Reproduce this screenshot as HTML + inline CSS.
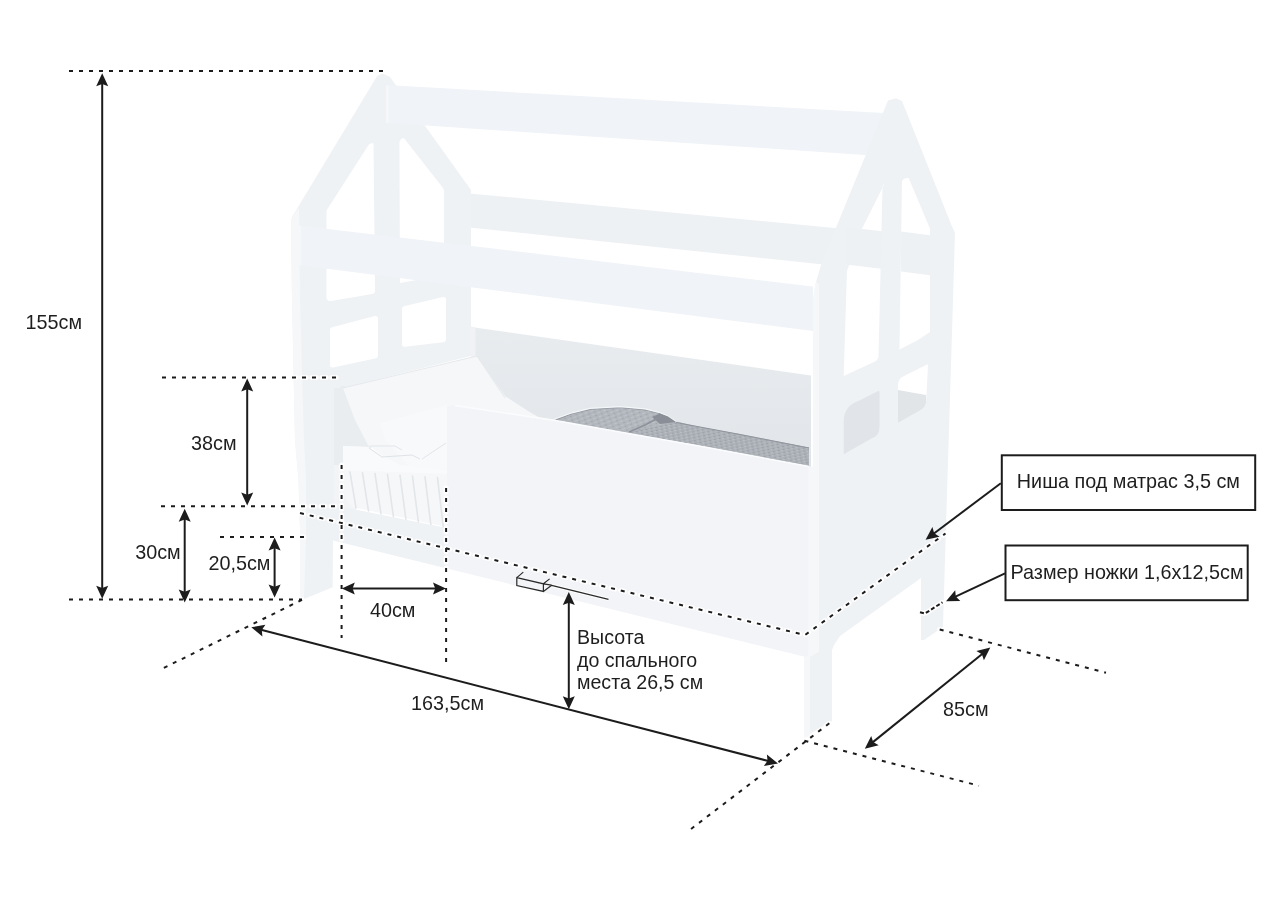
<!DOCTYPE html>
<html><head><meta charset="utf-8"><style>
html,body{margin:0;padding:0;background:#fff;}
svg{display:block;will-change:transform;}
text{font-family:"Liberation Sans",sans-serif;fill:#1e1e1e;}
</style></head><body>
<svg width="1280" height="900" viewBox="0 0 1280 900">
<rect width="1280" height="900" fill="#fff"/>
<polygon points="469,193.4 840,228.5 823,264.5 469,227.5" fill="#eef1f4" />
<linearGradient id="bp" x1="0" y1="0" x2="0" y2="1"><stop offset="0" stop-color="#e9ecef"/><stop offset="1" stop-color="#e1e5e9"/></linearGradient>
<polygon points="471,327 811,375.5 811,470 471,430" fill="url(#bp)" />
<polygon points="471,326.5 475.5,327.2 475.5,400 471,400" fill="#f0f2f5" />
<polygon points="291,222 292,217 377.3,75.8 382.7,73.4 389.8,76.7 471,190 471,356 343,388 340,400 340,537 333,537 332.7,587.3 303,599.5 300.3,598 300.3,540 298.5,480 295,440 292,300" fill="#eff2f5" />
<polygon points="291,222 292,217 299,207 300,300 304,440 306,480 306,537 304,598 300.3,598 300.3,540 298.5,480 295,440 292,300" fill="#f5f7f9" />
<path d="M368.5,145 Q370.6,142.5 373.5,143.5 L375,291 Q375,293.5 372,294 L331,301 Q326.5,301.5 326.5,297 L326.5,212 Q326.5,209 328.4,207.5 Z" fill="#fff"/>
<path d="M401,139 Q403.4,137.5 405,139.5 L442.5,187.2 Q444,189.5 444,192 L444,275 L400,283 L399.5,142 Z" fill="#fff"/>
<path d="M333,327 L375,316 Q378,315.5 378,319 L378,355 Q378,358 375,358.5 L333,367.5 Q330,368 330,365 L330,330 Q330,327.5 333,327 Z" fill="#fff"/>
<path d="M405,306 L443,297 Q446,296.5 446,300 L446,339 Q446,342 443,342.3 L405,346.7 Q402,347 402,344 L402,309 Q402,306.5 405,306 Z" fill="#fff"/>
<polygon points="334,388 343,388 343,465 334,465" fill="#eaedf0" />
<polygon points="334,465 356,465 356,537 334,537" fill="#f2f4f6" />
<polygon points="386.2,85.1 893,113.5 872,155.5 386.2,122.8" fill="#f0f3f7" />
<polygon points="386.2,85.1 388.5,85.3 388.5,123 386.2,122.9" fill="#f5f7f9" />
<polygon points="298,225.5 813,286.5 813,331 298,265" fill="#f0f3f7" />
<polygon points="298,225.5 301,225.8 301,265.3 298,265" fill="#f5f7f9" />
<pattern id="tx" width="6" height="4" patternUnits="userSpaceOnUse" patternTransform="rotate(-20)"><rect width="6" height="4" fill="#b2b6bd"/><rect width="3" height="1" fill="#c0c4ca"/><rect x="3" y="2" width="2" height="1" fill="#a2a7af"/></pattern>
<pattern id="tx2" width="5" height="3" patternUnits="userSpaceOnUse" patternTransform="rotate(-12)"><rect width="5" height="3" fill="#adb1b8"/><rect width="2" height="1" fill="#bbbfc5"/><rect x="2" y="2" width="2" height="1" fill="#9ca1a9"/></pattern>
<polygon points="600,418 674,421 700,426.9 740,434 809,447.5 809,466.5 700,445.5 554,420.5" fill="url(#tx2)" />
<polygon points="554,419.5 572,413 590,408.5 620,406.8 645,409 659,412.5 668,416.5 676,422 660,425 640,430 627,432.5 554,420.5" fill="url(#tx)" />
<path d="M556,419.8 L572,413.8 L590,409.3 L620,407.6 L645,409.8 L659,413.3 L668,417.3 L675,422" fill="none" stroke="#959aa3" stroke-width="1"/>
<path d="M554,419.3 L572,412.8 L590,408.3 L620,406.6 L645,408.8 L659,412.3 L668,416.3 L676.5,422" fill="none" stroke="#f4f6f8" stroke-width="1.2"/>
<path d="M676,422.5 L740,434.5 L809,448" fill="none" stroke="#8f949c" stroke-width="1"/>
<polygon points="652,417 660,413.5 668,416.5 676,422 660,424" fill="#8a8f97" />
<path d="M629,432 L645,425 L662,416" fill="none" stroke="#8d929a" stroke-width="1.6"/>
<polygon points="340,386 345,386 372,448 343,452 340,452" fill="#eaedf0" />
<polygon points="343,388 420,370 477,356 490,375 497,385 505,396 528,411 540,418 470,410 447,405 447,470 400,468 368,445 355,420" fill="#f5f7f9" />
<polygon points="380,423 447,405 447,470 410,468 385,440" fill="#f8f9fb" />
<line x1="343" y1="388" x2="477" y2="356" stroke="#e6e9ec" stroke-width="1" />
<line x1="477" y1="356" x2="505" y2="398" stroke="#e6e9ec" stroke-width="1" />
<path d="M343,446 L368,447 L400,465 L447,470 L447,527 L352,507 Q345,500 343,490 Z" fill="#f6f7f9"/>
<polygon points="343,446 368,447 400,465 447,470 447,474 343,470" fill="#f9fafb" />
<line x1="350.0" y1="472.0" x2="356.0" y2="508.0" stroke="#e2e6e9" stroke-width="1.6" stroke-linecap="round"/>
<line x1="362.5" y1="472.8" x2="368.5" y2="511.0" stroke="#e2e6e9" stroke-width="1.6" stroke-linecap="round"/>
<line x1="375.0" y1="473.6" x2="381.0" y2="514.0" stroke="#e2e6e9" stroke-width="1.6" stroke-linecap="round"/>
<line x1="387.5" y1="474.4" x2="393.5" y2="517.0" stroke="#e2e6e9" stroke-width="1.6" stroke-linecap="round"/>
<line x1="400.0" y1="475.2" x2="406.0" y2="520.0" stroke="#e2e6e9" stroke-width="1.6" stroke-linecap="round"/>
<line x1="412.5" y1="476.0" x2="418.5" y2="523.0" stroke="#e2e6e9" stroke-width="1.6" stroke-linecap="round"/>
<line x1="425.0" y1="476.8" x2="431.0" y2="526.0" stroke="#e2e6e9" stroke-width="1.6" stroke-linecap="round"/>
<line x1="437.5" y1="477.6" x2="443.5" y2="529.0" stroke="#e2e6e9" stroke-width="1.6" stroke-linecap="round"/>
<polyline points="369,448 382,457 412,455 420,459" fill="none" stroke="#dfe3e7" stroke-width="1"/>
<polyline points="370,446 395,446 402,450" fill="none" stroke="#e3e6ea" stroke-width="1"/>
<polyline points="422,459 446,443" fill="none" stroke="#e3e6ea" stroke-width="1"/>
<polygon points="333,505 447,528 447,568.6 333,540.5" fill="#eff2f5" />
<polygon points="447,405.5 455,405.2 554,420 700,446 809,466 809,657.8 447,568.6" fill="#f2f4f8" />
<polyline points="455,405.4 554,420.3 700,446.3 809,466.4" fill="none" stroke="#fbfcfd" stroke-width="1.5"/>
<polygon points="813,304 814,292 816,282 822,262 888,100.5 896,98.3 902,101 951,224 955,233 951.8,340 945,560 943,627 924,640 921,640 921,578 840,636 834,645 832,650 832,721 804,737.5 804,657 813,655" fill="#eff2f5" />
<polygon points="813,304 814,292 816,282 819,284 819,652 813,655" fill="#f5f7f9" />
<polygon points="804,657 810,655 810,737 804,737.5" fill="#f5f7f9" />
<polygon points="808.5,466.5 813.5,466.5 813.5,655 808.5,657.8" fill="#f5f7f9" />
<path d="M884.7,183.3 L882.5,186 L878.5,356 Q878.5,360 874,362 L843.7,376 L847,271 L862,228.7 Z" fill="#fff"/>
<path d="M902,181 Q904,177.5 908.7,178 L930,228.7 L930,332 L918,340 L899.5,349.4 Z" fill="#fff"/>
<polygon points="846,227 882,231.3 881,268.7 846,264.5" fill="#eef1f4" />
<polygon points="901,231.5 930,235.3 930,275.3 901,271.5" fill="#eef1f4" />
<path d="M843.7,454.2 L843.7,421 Q843.7,406 858.9,400.7 L877.7,391.3 L879.5,391 L879.5,426 Q879.5,436 871.9,438.3 Z" fill="#e1e4e8"/>
<path d="M897.9,423.1 L897.9,384.8 Q898.5,378 904,376 L926,365 L928,364.6 L926.1,402 Q926,407 920,410.5 Z" fill="#ffffff"/>
<path d="M897.9,423.1 L897.9,389.9 L926,394.9 L926.1,402 Q926,407 920,410.5 Z" fill="#e2e5e8"/>
<line x1="69" y1="71" x2="383" y2="71" stroke="#fff" stroke-width="5.0" stroke-linecap="round" stroke-dasharray="4 6" stroke-dashoffset="0" opacity="0.9"/>
<line x1="69" y1="599.6" x2="302" y2="599.6" stroke="#fff" stroke-width="5.0" stroke-linecap="round" stroke-dasharray="4 6" stroke-dashoffset="0" opacity="0.9"/>
<line x1="162" y1="377.5" x2="336" y2="377.5" stroke="#fff" stroke-width="5.0" stroke-linecap="round" stroke-dasharray="4 6" stroke-dashoffset="0" opacity="0.9"/>
<line x1="161" y1="506.2" x2="336" y2="506.2" stroke="#fff" stroke-width="5.0" stroke-linecap="round" stroke-dasharray="4 6" stroke-dashoffset="0" opacity="0.9"/>
<line x1="220" y1="536.9" x2="305" y2="536.9" stroke="#fff" stroke-width="5.0" stroke-linecap="round" stroke-dasharray="4 6" stroke-dashoffset="0" opacity="0.9"/>
<line x1="341.6" y1="465" x2="341.6" y2="638" stroke="#fff" stroke-width="5.0" stroke-linecap="round" stroke-dasharray="4 6" stroke-dashoffset="0" opacity="0.9"/>
<line x1="446.1" y1="488" x2="446.1" y2="662" stroke="#fff" stroke-width="5.0" stroke-linecap="round" stroke-dasharray="4 6" stroke-dashoffset="0" opacity="0.9"/>
<polyline points="300,513 805,635 945.5,533.5" fill="none" stroke="#fff" stroke-width="5.0" stroke-linecap="round" stroke-dasharray="4 6" opacity="0.9"/>
<line x1="302" y1="599.8" x2="160" y2="669.8" stroke="#fff" stroke-width="5.0" stroke-linecap="round" stroke-dasharray="4 6" stroke-dashoffset="0" opacity="0.9"/>
<line x1="829.3" y1="723.3" x2="691" y2="829" stroke="#fff" stroke-width="5.0" stroke-linecap="round" stroke-dasharray="4 6" stroke-dashoffset="0" opacity="0.9"/>
<line x1="804.4" y1="740.7" x2="979" y2="785.7" stroke="#fff" stroke-width="5.0" stroke-linecap="round" stroke-dasharray="4 6" stroke-dashoffset="0" opacity="0.9"/>
<line x1="939.7" y1="629.5" x2="1106" y2="672.8" stroke="#fff" stroke-width="5.0" stroke-linecap="round" stroke-dasharray="4 6" stroke-dashoffset="0" opacity="0.9"/>
<polyline points="920,612.2 925,613.5 942.5,602.3" fill="none" stroke="#fff" stroke-width="5.0" stroke-linecap="round" stroke-dasharray="4 2.2" opacity="0.9"/>
<line x1="69" y1="71" x2="383" y2="71" stroke="#1c1c1c" stroke-width="2.0" stroke-dasharray="4 6" stroke-dashoffset="0"/>
<line x1="102.2" y1="83.3" x2="102.2" y2="588.8" stroke="#1c1c1c" stroke-width="2.0"/>
<path d="M102.2,598.8 L96.2,585.8 L102.2,588.0 L108.2,585.8 Z" fill="#1c1c1c"/>
<path d="M102.2,73.3 L108.2,86.3 L102.2,84.1 L96.2,86.3 Z" fill="#1c1c1c"/>
<text x="25.5" y="328.7" font-size="19.8" text-anchor="start">155см</text>
<line x1="69" y1="599.6" x2="302" y2="599.6" stroke="#1c1c1c" stroke-width="2.0" stroke-dasharray="4 6" stroke-dashoffset="0"/>
<line x1="162" y1="377.5" x2="336" y2="377.5" stroke="#1c1c1c" stroke-width="2.0" stroke-dasharray="4 6" stroke-dashoffset="0"/>
<line x1="247.2" y1="388.4" x2="247.2" y2="495.6" stroke="#1c1c1c" stroke-width="2.0"/>
<path d="M247.2,505.6 L241.2,492.6 L247.2,494.8 L253.2,492.6 Z" fill="#1c1c1c"/>
<path d="M247.2,378.4 L253.2,391.4 L247.2,389.2 L241.2,391.4 Z" fill="#1c1c1c"/>
<text x="191" y="449.5" font-size="19.8" text-anchor="start">38см</text>
<line x1="161" y1="506.2" x2="336" y2="506.2" stroke="#1c1c1c" stroke-width="2.0" stroke-dasharray="4 6" stroke-dashoffset="0"/>
<line x1="184.7" y1="518.8" x2="184.7" y2="592.5" stroke="#1c1c1c" stroke-width="2.0"/>
<path d="M184.7,602.5 L178.7,589.5 L184.7,591.7 L190.7,589.5 Z" fill="#1c1c1c"/>
<path d="M184.7,508.8 L190.7,521.8 L184.7,519.6 L178.7,521.8 Z" fill="#1c1c1c"/>
<text x="135.2" y="558.9" font-size="19.8" text-anchor="start">30см</text>
<line x1="220" y1="536.9" x2="305" y2="536.9" stroke="#1c1c1c" stroke-width="2.0" stroke-dasharray="4 6" stroke-dashoffset="0"/>
<line x1="274.6" y1="547.5" x2="274.6" y2="587.5" stroke="#1c1c1c" stroke-width="2.0"/>
<path d="M274.6,597.5 L268.6,584.5 L274.6,586.7 L280.6,584.5 Z" fill="#1c1c1c"/>
<path d="M274.6,537.5 L280.6,550.5 L274.6,548.3 L268.6,550.5 Z" fill="#1c1c1c"/>
<text x="208.4" y="570.1" font-size="19.8" text-anchor="start">20,5см</text>
<line x1="341.6" y1="465" x2="341.6" y2="638" stroke="#1c1c1c" stroke-width="2.0" stroke-dasharray="4 6" stroke-dashoffset="0"/>
<line x1="446.1" y1="488" x2="446.1" y2="662" stroke="#1c1c1c" stroke-width="2.0" stroke-dasharray="4 6" stroke-dashoffset="0"/>
<line x1="351.8" y1="588.5" x2="436.0" y2="588.5" stroke="#1c1c1c" stroke-width="2.0"/>
<path d="M446.0,588.5 L433.0,594.5 L435.2,588.5 L433.0,582.5 Z" fill="#1c1c1c"/>
<path d="M341.8,588.5 L354.8,582.5 L352.6,588.5 L354.8,594.5 Z" fill="#1c1c1c"/>
<text x="369.9" y="617.4" font-size="19.8" text-anchor="start">40см</text>
<polyline points="300,513 805,635 945.5,533.5" fill="none" stroke="#1c1c1c" stroke-width="2.0" stroke-dasharray="4 6"/>
<line x1="302" y1="599.8" x2="160" y2="669.8" stroke="#1c1c1c" stroke-width="2.0" stroke-dasharray="4 6" stroke-dashoffset="0"/>
<line x1="829.3" y1="723.3" x2="691" y2="829" stroke="#1c1c1c" stroke-width="2.0" stroke-dasharray="4 6" stroke-dashoffset="0"/>
<line x1="804.4" y1="740.7" x2="979" y2="785.7" stroke="#1c1c1c" stroke-width="2.0" stroke-dasharray="4 6" stroke-dashoffset="0"/>
<line x1="939.7" y1="629.5" x2="1106" y2="672.8" stroke="#1c1c1c" stroke-width="2.0" stroke-dasharray="4 6" stroke-dashoffset="0"/>
<polyline points="920,612.2 925,613.5 942.5,602.3" fill="none" stroke="#1c1c1c" stroke-width="2.0" stroke-dasharray="4 2.2"/>
<line x1="261.0" y1="629.8" x2="768.3" y2="761.0" stroke="#1c1c1c" stroke-width="2.0"/>
<path d="M778.0,763.5 L763.9,766.1 L767.5,760.8 L766.9,754.4 Z" fill="#1c1c1c"/>
<path d="M251.3,627.3 L265.4,624.7 L261.8,630.0 L262.4,636.4 Z" fill="#1c1c1c"/>
<text x="411" y="709.5" font-size="19.8" text-anchor="start">163,5см</text>
<line x1="872.6" y1="742.4" x2="982.5" y2="653.8" stroke="#1c1c1c" stroke-width="2.0"/>
<path d="M990.3,647.5 L983.9,660.3 L981.9,654.3 L976.4,651.0 Z" fill="#1c1c1c"/>
<path d="M864.8,748.7 L871.2,735.9 L873.2,741.9 L878.7,745.2 Z" fill="#1c1c1c"/>
<text x="943" y="715.6" font-size="19.8" text-anchor="start">85см</text>
<line x1="568.8" y1="602.0" x2="568.8" y2="699.3" stroke="#1c1c1c" stroke-width="2.0"/>
<path d="M568.8,709.3 L562.8,696.3 L568.8,698.5 L574.8,696.3 Z" fill="#1c1c1c"/>
<path d="M568.8,592.0 L574.8,605.0 L568.8,602.8 L562.8,605.0 Z" fill="#1c1c1c"/>
<text x="577" y="643.9" font-size="19.6">Высота</text>
<text x="577" y="666.6" font-size="19.6">до спального</text>
<text x="577" y="688.7" font-size="19.6">места 26,5 см</text>
<path d="M551.6,585.4 L608.5,599.3" fill="none" stroke="#fff" stroke-width="3.5" opacity="0.8"/>
<path d="M516.8,577.6 L543.4,583.8 L543.4,591.4 L516.8,585.6 Z M516.8,577.6 L523.3,572.1 M543.4,583.8 L549.6,578.9 M543.4,583.8 L551.6,585.2 M543.4,591.4 L551.6,585.2 M551.6,585.4 L608.5,599.3" fill="none" stroke="#2a2a2a" stroke-width="1.2"/>
<rect x="1001.8" y="455.3" width="253.4" height="54.7" fill="#fff" stroke="#1c1c1c" stroke-width="2"/>
<text x="1016.8" y="487.7" font-size="19.8" text-anchor="start">Ниша под матрас 3,5 см</text>
<rect x="1005.5" y="545.5" width="242.2" height="54.7" fill="#fff" stroke="#1c1c1c" stroke-width="2"/>
<text x="1010.5" y="578.5" font-size="19.8" text-anchor="start">Размер ножки 1,6х12,5см</text>
<line x1="1000.8" y1="483.3" x2="933.6" y2="533.7" stroke="#1c1c1c" stroke-width="2"/>
<path d="M925.6,539.7 L932.4,527.1 L934.2,533.2 L939.6,536.7 Z" fill="#1c1c1c"/>
<line x1="1005.0" y1="573.3" x2="955.0" y2="596.9" stroke="#1c1c1c" stroke-width="2"/>
<path d="M946.0,601.2 L955.2,590.2 L955.8,596.6 L960.3,601.1 Z" fill="#1c1c1c"/>
</svg>
</body></html>
